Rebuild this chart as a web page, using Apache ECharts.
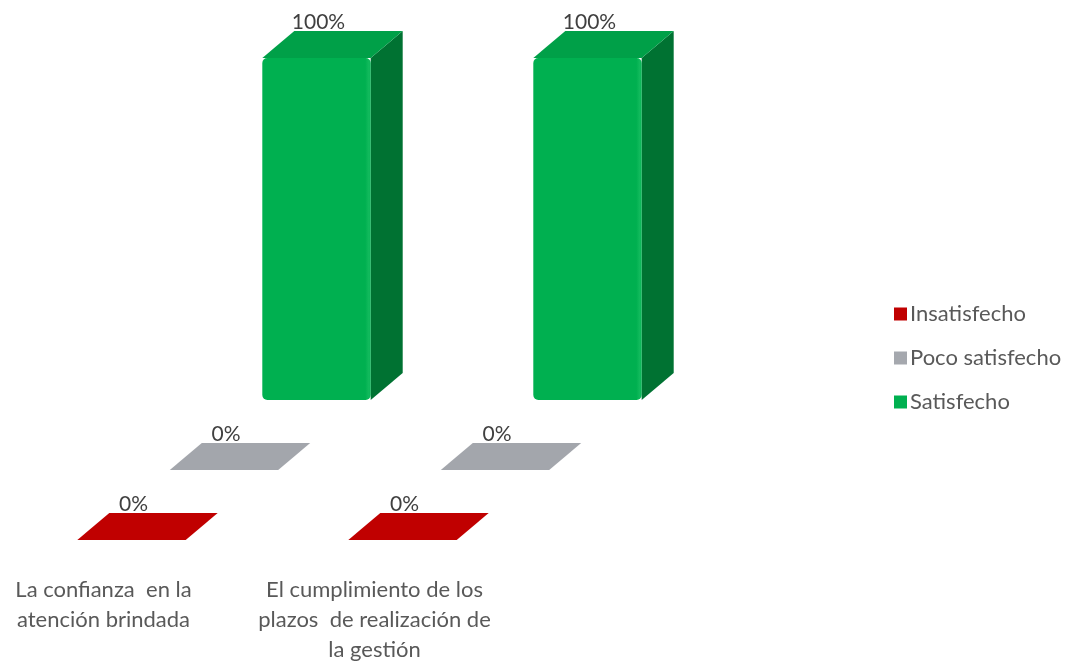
<!DOCTYPE html>
<html>
<head>
<meta charset="utf-8">
<script src="https://cdn.jsdelivr.net/npm/echarts@6/dist/echarts.min.js"></script>
<style>
  html, body { margin: 0; padding: 0; background: #ffffff; }
  #chart { width: 1066px; height: 665px; }
</style>
</head>
<body>
<div id="chart"></div>
<script>
// Categories and values (percent) per rating level
const categories = [
  'La confianza  en la\natención brindada',
  'El cumplimiento de los\nplazos  de realización de\nla gestión'
];
const seriesNames = ['Insatisfecho', 'Poco satisfecho', 'Satisfecho'];
const insatisfecho = [0, 0];
const pocoSatisfecho = [0, 0];
const satisfecho = [100, 100];

const FONT = 'Lato, "Open Sans", sans-serif';

// face colours per series: [front, top, side]
const palette = [
  ['#C00000', '#C00000', '#8E0000'],
  ['#A5A8AE', '#A3A6AC', '#7E8187'],
  ['#00B050', '#00A048', '#007232']
];

// each series sits one row further back in the 3D scene
const ROW_SHIFT_X = 92.5, ROW_SHIFT_Y = 70;
const DEPTH_X = 32, DEPTH_Y = 27;

function renderBox(params, api) {
  const s = params.seriesIndex;
  const cat = api.value(0), v = api.value(1);
  const base = api.coord([cat, 0]);
  const top = api.coord([cat, v]);
  const w = api.size([1, 0])[0] * 0.4;
  const ox = s * ROW_SHIFT_X, oy = -s * ROW_SHIFT_Y;
  const x0 = base[0] - w / 2 + ox, x1 = x0 + w;
  const yb = base[1] + oy, yt = top[1] + oy;
  const c = palette[s];
  const children = [];
  // side face
  children.push({
    type: 'polygon',
    shape: { points: [[x1, yb], [x1 + DEPTH_X, yb - DEPTH_Y], [x1 + DEPTH_X, yt - DEPTH_Y], [x1, yt]] },
    style: { fill: c[2] }
  });
  // top face
  children.push({
    type: 'polygon',
    shape: { points: [[x0, yt], [x0 + DEPTH_X, yt - DEPTH_Y], [x1 + DEPTH_X, yt - DEPTH_Y], [x1, yt]] },
    style: { fill: c[1] }
  });
  // front face
  if (yb - yt > 0.5) {
    children.push({
      type: 'rect',
      shape: { x: x0, y: yt, width: w, height: yb - yt, r: 5 },
      style: {
        fill: new echarts.graphic.LinearGradient(0, 0, 1, 0, [
          { offset: 0, color: c[0] },
          { offset: 0.95, color: c[0] },
          { offset: 0.985, color: '#14bb5e' },
          { offset: 1, color: c[0] }
        ])
      }
    });
  }
  // value label
  children.push({
    type: 'text',
    style: {
      x: (x0 + x1) / 2 + 2,
      y: yt - DEPTH_Y - 9,
      text: v + '%',
      fill: '#404040',
      font: '21px ' + FONT,
      align: 'center',
      verticalAlign: 'middle'
    }
  });
  return { type: 'group', children: children };
}

const values = [insatisfecho, pocoSatisfecho, satisfecho];

const option = {
  backgroundColor: '#ffffff',
  animation: false,
  legend: {
    orient: 'vertical',
    left: 889,
    top: 298,
    itemWidth: 13,
    itemHeight: 13,
    itemGap: 22,
    icon: 'rect',
    data: seriesNames,
    textStyle: { fontFamily: FONT, fontSize: 22, color: '#595959', padding: [0, 0, 0, -2] }
  },
  grid: [
    { left: -4, width: 542, top: 198, height: 342, outerBoundsMode: 'none' },
    { left: -32, width: 542, top: 198, height: 342, outerBoundsMode: 'none' }
  ],
  xAxis: [
    { type: 'category', gridIndex: 0, data: categories, show: false },
    {
      type: 'category', gridIndex: 1, data: categories,
      axisLine: { show: false }, axisTick: { show: false },
      axisLabel: {
        margin: 35, fontFamily: FONT, fontSize: 22, color: '#595959',
        lineHeight: 30, interval: 0, align: 'center', hideOverlap: false
      }
    }
  ],
  yAxis: [
    { type: 'value', gridIndex: 0, min: 0, max: 100, show: false },
    { type: 'value', gridIndex: 1, min: 0, max: 100, show: false }
  ],
  series: seriesNames.map((name, s) => ({
    name: name,
    type: 'custom',
    xAxisIndex: 0,
    yAxisIndex: 0,
    z: 10 - s,
    itemStyle: { color: palette[s][0] },
    renderItem: renderBox,
    data: values[s].map((v, i) => [i, v])
  }))
};

echarts.init(document.getElementById('chart'), null, { renderer: 'canvas' }).setOption(option);
</script>
</body>
</html>
